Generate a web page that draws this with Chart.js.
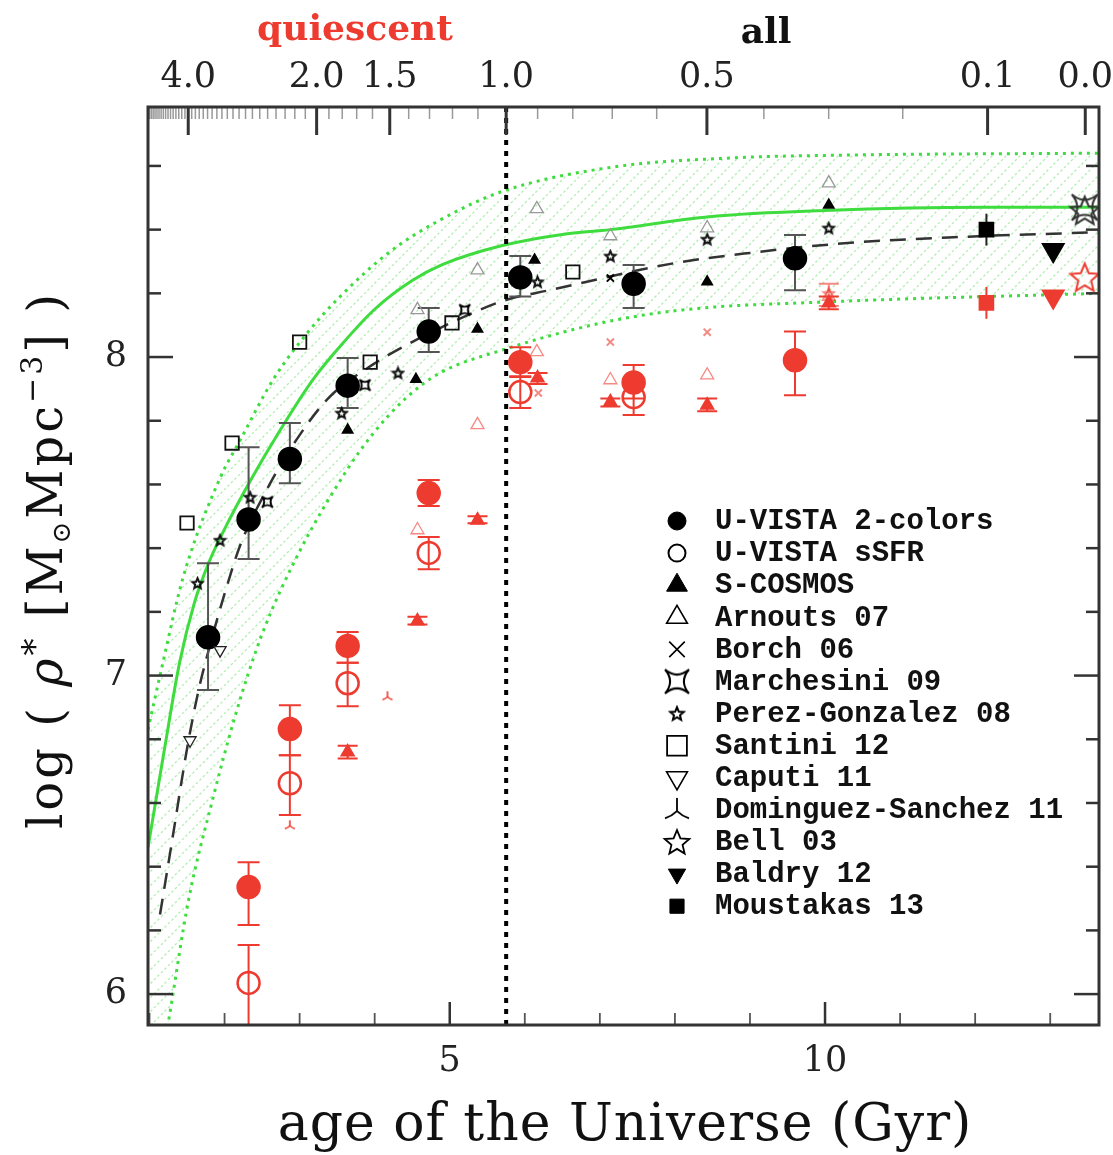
<!DOCTYPE html>
<html>
<head>
<meta charset="utf-8">
<title>Stellar mass density vs age of the Universe</title>
<script src="https://cdn.jsdelivr.net/npm/chart.js@4.4.1/dist/chart.umd.min.js"></script>
<style>
  html, body { margin: 0; padding: 0; background: #fff; }
  #chart { display: block; }
</style>
</head>
<body>
<canvas id="chart" width="1113" height="1155"></canvas>
<script>
// Axis ranges
const ageMin = 0.98, ageMax = 13.65;
const rhoMin = 5.903, rhoMax = 8.785;

// Tick labels
const xTickLabels = [5, 10];
const yTickLabels = [6, 7, 8];
const zMajor = [4, 2, 1.5, 1, 0.5, 0.1, 0];
const zLabels = ['4.0', '2.0', '1.5', '1.0', '0.5', '0.1', '0.0'];

// U-VISTA 2-colors, all galaxies
const allUV2Age = [1.78, 2.32, 2.87, 3.64, 4.72, 5.94, 7.45, 9.60];
const allUV2 = [7.12, 7.49, 7.68, 7.91, 8.08, 8.25, 8.23, 8.31];
const allUV2Lo = [6.955, 7.366, 7.604, 7.84, 8.016, 8.19, 8.154, 8.21];
const allUV2Hi = [7.353, 7.717, 7.793, 7.997, 8.154, 8.317, 8.289, 8.383];

// U-VISTA 2-colors, quiescent
const qUV2Age = [2.32, 2.87, 3.64, 4.72, 5.94, 7.45, 9.60];
const qUV2 = [6.336, 6.832, 7.093, 7.573, 7.984, 7.92, 7.99];
const qUV2Lo = [6.217, 6.75, 7.04, 7.532, 7.937, 7.87, 7.88];
const qUV2Hi = [6.414, 6.907, 7.137, 7.614, 8.031, 7.975, 8.08];

// U-VISTA sSFR, quiescent
const qSSFRAge = [2.32, 2.87, 3.64, 4.72, 5.94, 7.45];
const qSSFR = [6.035, 6.662, 6.976, 7.385, 7.89, 7.874];
const qSSFRLo = [5.80, 6.562, 6.904, 7.334, 7.84, 7.818];
const qSSFRHi = [6.154, 6.75, 7.04, 7.435, 7.94, 7.93];

// S-COSMOS
const allSCAge = [3.64, 4.55, 5.37, 6.13, 8.43, 10.05];
const allSC = [7.771, 7.93, 8.088, 8.305, 8.236, 8.477];
const qSCAge = [3.64, 4.57, 5.37, 6.17, 7.14, 8.43, 10.05];
const qSC = [6.76, 7.171, 7.488, 7.934, 7.859, 7.849, 8.17];
const qSCLo = [6.74, 7.16, 7.478, 7.915, 7.845, 7.83, 8.15];
const qSCHi = [6.78, 7.185, 7.5, 7.95, 7.87, 7.87, 8.19];

// Arnouts 07
const allArnAge = [4.57, 5.37, 6.16, 7.14, 8.43, 10.05];
const allArn = [8.148, 8.273, 8.465, 8.38, 8.405, 8.546];
const qArnAge = [4.57, 5.37, 6.16, 7.14, 8.43, 10.05];
const qArn = [7.457, 7.787, 8.016, 7.928, 7.943, 8.19];

// Borch 06
const allBorAge = [7.14];
const allBor = [8.248];
const qBorAge = [6.18, 7.14, 8.43];
const qBor = [7.887, 8.047, 8.078];

// Marchesini 09
const allMarAge = [2.57, 3.87, 5.2];
const allMar = [7.545, 7.912, 8.148];
const allMarZ0Age = [13.46];
const allMarZ0 = [8.47];

// Perez-Gonzalez 08
const allPGAge = [1.64, 1.94, 2.34, 3.56, 4.31, 6.17, 7.14, 8.43, 10.05];
const allPG = [7.29, 7.425, 7.56, 7.824, 7.95, 8.236, 8.317, 8.37, 8.405];
const qPGAge = [10.05];
const qPG = [8.2];

// Santini 12
const allSanAge = [1.5, 2.1, 3.0, 3.94, 5.03, 6.64];
const allSan = [7.479, 7.73, 8.047, 7.984, 8.107, 8.267];

// Caputi 11
const allCapAge = [1.54, 1.94];
const allCap = [6.797, 7.08];

// Dominguez-Sanchez 11
const qDSAge = [2.87, 4.17];
const qDS = [6.53, 6.935];

// Bell 03
const allBellAge = [13.46];
const allBell = [8.46];
const qBellAge = [13.46];
const qBell = [8.25];

// Baldry 12
const allBalAge = [13.04];
const allBal = [8.336];
const qBalAge = [13.04];
const qBal = [8.19];

// Moustakas 13
const allMouAge = [12.15];
const allMou = [8.40];
const allMouLo = [8.35];
const allMouHi = [8.45];
const qMouAge = [12.15];
const qMou = [8.17];
const qMouLo = [8.12];
const qMouHi = [8.22];

// Fit curve (green solid) and its band (green dotted)
const fitAge = [0.98, 1.2, 1.4, 1.6, 1.8, 2.0, 2.34, 2.74, 3.18, 3.6, 4.0, 4.5, 4.9, 5.7, 6.5, 7.14, 8.43, 10.0, 12.15, 13.65];
const fitRho = [6.46, 6.77, 7.04, 7.23, 7.36, 7.46, 7.61, 7.77, 7.93, 8.05, 8.15, 8.24, 8.29, 8.35, 8.385, 8.40, 8.44, 8.46, 8.47, 8.47];
const bandHiAge = [0.98, 1.14, 1.45, 1.94, 2.21, 2.65, 3.10, 3.54, 4.20, 4.87, 5.70, 7.19, 8.74, 10.27, 13.65];
const bandHi = [6.83, 7.0, 7.31, 7.62, 7.74, 7.93, 8.075, 8.19, 8.33, 8.43, 8.52, 8.597, 8.625, 8.634, 8.64];
const bandLoAge = [0.98, 1.25, 1.52, 1.84, 2.15, 2.5, 3.0, 3.63, 3.98, 4.43, 4.87, 5.70, 7.02, 8.1, 10.0, 13.65];
const bandLo = [5.55, 5.91, 6.295, 6.61, 6.88, 7.13, 7.39, 7.645, 7.76, 7.874, 7.95, 8.022, 8.107, 8.148, 8.173, 8.2];

// Black dashed curve
const dashAge = [1.14, 1.3, 1.5, 1.65, 1.8, 2.03, 2.21, 2.6, 3.0, 3.4, 4.0, 4.4, 5.3, 5.76, 6.33, 8.0, 9.0, 10.3, 11.8, 13.65];
const dashRho = [6.25, 6.48, 6.77, 6.95, 7.09, 7.28, 7.41, 7.6, 7.755, 7.875, 7.98, 8.035, 8.138, 8.18, 8.21, 8.295, 8.327, 8.358, 8.377, 8.392];

// Legend
const legendLabels = ['U-VISTA 2-colors', 'U-VISTA sSFR', 'S-COSMOS', 'Arnouts 07', 'Borch 06',
  'Marchesini 09', 'Perez-Gonzalez 08', 'Santini 12', 'Caputi 11', 'Dominguez-Sanchez 11',
  'Bell 03', 'Baldry 12', 'Moustakas 13'];

const red = '#ee3b30';
const redLight = 'rgba(238,59,48,0.6)';
const green = '#3edc3e';
const serif = '"DejaVu Serif", serif';

// age of the Universe at redshift z (flat LCDM, H0=70, Om=0.3)
function ageAtZ(z) {
  const tH = 977.8 / 70;
  return 2 / (3 * Math.sqrt(0.7)) * tH * Math.asinh(Math.sqrt(0.7 / 0.3) * Math.pow(1 + z, -1.5));
}

const pts = (xs, ys) => xs.map((x, i) => ({ x: x, y: ys[i] }));

// symbols that Chart.js does not have
function makeSymbol(size, draw) {
  const c = document.createElement('canvas');
  c.width = size; c.height = size;
  const g = c.getContext('2d');
  g.translate(size / 2, size / 2);
  draw(g, size / 2 - 2);
  return c;
}
function starSymbol(size, color, lw) {
  return makeSymbol(size, (g, r) => {
    g.beginPath();
    for (let k = 0; k < 10; k++) {
      const rr = k % 2 ? r * 0.45 : r;
      const a = -Math.PI / 2 + k * Math.PI / 5;
      g.lineTo(rr * Math.cos(a), rr * Math.sin(a) + r * 0.08);
    }
    g.closePath();
    g.strokeStyle = color; g.lineWidth = lw; g.stroke();
  });
}
function marchSymbol(size, color, lw) {
  return makeSymbol(size, (g, r) => {
    g.beginPath();
    g.moveTo(-r, -r);
    g.quadraticCurveTo(0, -r * 0.15, r, -r);
    g.quadraticCurveTo(r * 0.15, 0, r, r);
    g.quadraticCurveTo(0, r * 0.15, -r, r);
    g.quadraticCurveTo(-r * 0.15, 0, -r, -r);
    g.strokeStyle = color; g.lineWidth = lw; g.stroke();
  });
}
function tripodSymbol(size, color, lw) {
  return makeSymbol(size, (g, r) => {
    g.beginPath();
    g.moveTo(0, -r); g.lineTo(0, r * 0.1);
    g.quadraticCurveTo(-r * 0.4, r * 0.5, -r, r * 0.7);
    g.moveTo(0, r * 0.1);
    g.quadraticCurveTo(r * 0.4, r * 0.5, r, r * 0.7);
    g.strokeStyle = color; g.lineWidth = lw; g.stroke();
  });
}

function hatchPattern() {
  const c = document.createElement('canvas');
  c.width = 14; c.height = 14;
  const g = c.getContext('2d');
  g.strokeStyle = 'rgba(80,215,80,0.45)';
  g.lineWidth = 1.2;
  g.setLineDash([2.475, 2.475]);
  [-14, 0, 14].forEach(x0 => {
    g.beginPath(); g.moveTo(x0, 14); g.lineTo(x0 + 14, 0); g.stroke();
  });
  return document.getElementById('chart').getContext('2d').createPattern(c, 'repeat');
}

function scatter(label, xs, ys, style) {
  return Object.assign({ type: 'scatter', label: label, data: pts(xs, ys), order: 1, borderWidth: 1.5 }, style);
}
function curve(label, xs, ys, style) {
  return Object.assign({ type: 'line', label: label, data: pts(xs, ys), pointRadius: 0, fill: false,
    cubicInterpolationMode: 'monotone', borderCapStyle: 'butt', order: 5 }, style);
}

const none = 'rgba(0,0,0,0)';
const datasets = [
  // band and curves (index 0, 1)
  curve('band upper', bandHiAge, bandHi, { borderColor: green, borderWidth: 3, borderDash: [3, 5],
    fill: { target: 1 }, backgroundColor: hatchPattern(), order: 10 }),
  curve('band lower', bandLoAge, bandLo, { borderColor: green, borderWidth: 3, borderDash: [3, 5], order: 9 }),
  curve('fit', fitAge, fitRho, { borderColor: green, borderWidth: 3 }),
  curve('dashed', dashAge, dashRho, { borderColor: '#333', borderWidth: 2.5, borderDash: [16, 10] }),
  curve('z=1', [ageAtZ(1), ageAtZ(1)], [rhoMin, rhoMax], { borderColor: '#000', borderWidth: 4,
    borderDash: [5, 6], cubicInterpolationMode: 'default', order: 4 }),

  // literature, all
  scatter('Arnouts 07', allArnAge, allArn, { pointStyle: 'triangle', pointRadius: 7.5, backgroundColor: none, borderColor: '#999', borderWidth: 1.3 }),
  scatter('Borch 06', allBorAge, allBor, { pointStyle: 'crossRot', pointRadius: 5, borderColor: '#000', borderWidth: 2 }),
  scatter('Marchesini 09', allMarAge, allMar, { pointStyle: marchSymbol(15, '#000', 1.8) }),
  scatter('Marchesini 09 z0', allMarZ0Age, allMarZ0, { pointStyle: marchSymbol(30, '#333', 2) }),
  scatter('Perez-Gonzalez 08', allPGAge, allPG, { pointStyle: starSymbol(15, '#111', 2) }),
  scatter('Santini 12', allSanAge, allSan, { pointStyle: 'rect', pointRadius: 9.5, backgroundColor: none, borderColor: '#111', borderWidth: 1.8 }),
  scatter('Caputi 11', allCapAge, allCap, { pointStyle: 'triangle', rotation: 180, pointRadius: 7, backgroundColor: none, borderColor: '#222', borderWidth: 1.3 }),
  scatter('Bell 03', allBellAge, allBell, { pointStyle: starSymbol(34, '#333', 2) }),
  scatter('Baldry 12', allBalAge, allBal, { pointStyle: 'triangle', rotation: 180, pointRadius: 12.5, backgroundColor: '#000', borderColor: '#000' }),
  scatter('Moustakas 13', allMouAge, allMou, { pointStyle: 'rect', pointRadius: 10, backgroundColor: '#000', borderColor: '#000',
    errLo: allMouLo, errHi: allMouHi, errColor: '#222', errCap: 0 }),
  scatter('S-COSMOS', allSCAge, allSC, { pointStyle: 'triangle', pointRadius: 6, backgroundColor: '#000', borderColor: '#000' }),
  scatter('U-VISTA 2-colors', allUV2Age, allUV2, { pointStyle: 'circle', pointRadius: 11.5, backgroundColor: '#000', borderColor: '#000',
    errLo: allUV2Lo, errHi: allUV2Hi, errColor: '#555', errCap: 11 }),

  // literature, quiescent
  scatter('Arnouts 07 q', qArnAge, qArn, { pointStyle: 'triangle', pointRadius: 7.5, backgroundColor: none, borderColor: redLight, borderWidth: 1.3 }),
  scatter('Borch 06 q', qBorAge, qBor, { pointStyle: 'crossRot', pointRadius: 5, borderColor: redLight, borderWidth: 2 }),
  scatter('Perez-Gonzalez 08 q', qPGAge, qPG, { pointStyle: starSymbol(15, redLight, 2),
    errLo: [8.16], errHi: [8.23], errColor: redLight, errCap: 10 }),
  scatter('Dominguez-Sanchez 11 q', qDSAge, qDS, { pointStyle: tripodSymbol(14, red, 1.6) }),
  scatter('Bell 03 q', qBellAge, qBell, { pointStyle: starSymbol(34, red, 2) }),
  scatter('Baldry 12 q', qBalAge, qBal, { pointStyle: 'triangle', rotation: 180, pointRadius: 12.5, backgroundColor: red, borderColor: red }),
  scatter('Moustakas 13 q', qMouAge, qMou, { pointStyle: 'rect', pointRadius: 10, backgroundColor: red, borderColor: red,
    errLo: qMouLo, errHi: qMouHi, errColor: red, errCap: 0 }),
  scatter('S-COSMOS q', qSCAge, qSC, { pointStyle: 'triangle', pointRadius: 7.5, backgroundColor: red, borderColor: red,
    errLo: qSCLo, errHi: qSCHi, errColor: red, errCap: 10 }),
  scatter('U-VISTA sSFR q', qSSFRAge, qSSFR, { pointStyle: 'circle', pointRadius: 11, backgroundColor: none, borderColor: red, borderWidth: 2.5,
    errLo: qSSFRLo, errHi: qSSFRHi, errColor: red, errCap: 11 }),
  scatter('U-VISTA 2-colors q', qUV2Age, qUV2, { pointStyle: 'circle', pointRadius: 11.5, backgroundColor: red, borderColor: red,
    errLo: qUV2Lo, errHi: qUV2Hi, errColor: red, errCap: 11 })
];

// legend symbols, drawn with the same helpers as the points
const legendSymbols = [
  { pointStyle: 'circle', radius: 9, fill: '#000', stroke: '#000', borderWidth: 1 },
  { pointStyle: 'circle', radius: 8.5, fill: none, stroke: '#000', borderWidth: 2 },
  { pointStyle: 'triangle', radius: 12, fill: '#000', stroke: '#000', borderWidth: 1 },
  { pointStyle: 'triangle', radius: 12, fill: none, stroke: '#000', borderWidth: 1.6 },
  { pointStyle: 'crossRot', radius: 11, fill: none, stroke: '#000', borderWidth: 1.6 },
  { pointStyle: marchSymbol(28, '#000', 2), radius: 12 },
  { pointStyle: starSymbol(18, '#000', 2), radius: 8 },
  { pointStyle: 'rect', radius: 14, fill: none, stroke: '#000', borderWidth: 1.8 },
  { pointStyle: 'triangle', rotation: 180, radius: 12, fill: none, stroke: '#000', borderWidth: 1.6 },
  { pointStyle: tripodSymbol(28, '#000', 1.8), radius: 12 },
  { pointStyle: starSymbol(30, '#000', 1.8), radius: 13 },
  { pointStyle: 'triangle', rotation: 180, radius: 10, fill: '#000', stroke: '#000', borderWidth: 1 },
  { pointStyle: 'rect', radius: 10, fill: '#000', stroke: '#000', borderWidth: 1 }
];

// error bars, drawn before each dataset's markers
const errorBars = {
  id: 'errorBars',
  beforeDatasetDraw(chart, args) {
    const ds = chart.data.datasets[args.index];
    if (!ds.errLo) return;
    const ctx = chart.ctx, y = chart.scales.y, a = chart.chartArea;
    ctx.save();
    ctx.beginPath();
    ctx.rect(a.left, a.top, a.right - a.left, a.bottom - a.top);
    ctx.clip();
    ctx.strokeStyle = ds.errColor;
    ctx.lineWidth = 2;
    args.meta.data.forEach((pt, i) => {
      const top = y.getPixelForValue(ds.errHi[i]);
      const bot = y.getPixelForValue(ds.errLo[i]);
      ctx.beginPath();
      ctx.moveTo(pt.x, top); ctx.lineTo(pt.x, bot);
      if (ds.errCap) {
        ctx.moveTo(pt.x - ds.errCap, top); ctx.lineTo(pt.x + ds.errCap, top);
        ctx.moveTo(pt.x - ds.errCap, bot); ctx.lineTo(pt.x + ds.errCap, bot);
      }
      ctx.stroke();
    });
    ctx.restore();
  }
};

// frame, inward ticks, titles, legend
const decorations = {
  id: 'decorations',
  afterDraw(chart) {
    const ctx = chart.ctx, a = chart.chartArea;
    const x = chart.scales.x, y = chart.scales.y;
    const tick = (x1, y1, x2, y2) => { ctx.beginPath(); ctx.moveTo(x1, y1); ctx.lineTo(x2, y2); ctx.stroke(); };
    ctx.save();

    // bottom: every Gyr, long at 5 and 10
    for (let v = 1; v <= 13; v++) {
      const px = x.getPixelForValue(v);
      const major = v % 5 === 0;
      ctx.strokeStyle = major ? '#333' : '#555';
      ctx.lineWidth = major ? 2.5 : 1.8;
      tick(px, a.bottom, px, a.bottom - (major ? 23 : 12));
    }
    // left and right: every 0.2 dex, long at integers
    for (let k = 30; k <= 43; k++) {
      const py = y.getPixelForValue(k / 5);
      const major = k % 5 === 0;
      const len = major ? 25 : 13;
      ctx.strokeStyle = '#333';
      ctx.lineWidth = 2.5;
      tick(a.left, py, a.left + len, py);
      tick(a.right, py, a.right - len, py);
    }
    // top: redshift
    for (let k = 2; k <= 57; k++) {
      const z = k / 10;
      if (zMajor.some(m => Math.abs(m - z) < 1e-6)) continue;
      const px = x.getPixelForValue(ageAtZ(z));
      ctx.strokeStyle = '#999';
      ctx.lineWidth = 1.5;
      tick(px, a.top, px, a.top + 12);
    }
    zMajor.forEach(z => {
      const px = x.getPixelForValue(ageAtZ(z));
      ctx.strokeStyle = '#333';
      ctx.lineWidth = 3;
      tick(px, a.top, px, a.top + 28);
    });

    // frame
    ctx.strokeStyle = '#333';
    ctx.lineWidth = 3;
    ctx.strokeRect(a.left, a.top, a.right - a.left, a.bottom - a.top);

    // x title
    ctx.fillStyle = '#111';
    ctx.textAlign = 'center';
    ctx.textBaseline = 'alphabetic';
    ctx.font = '52px ' + serif;
    ctx.letterSpacing = '1px';
    ctx.fillText('age of the Universe (Gyr)', 625, 1140);
    ctx.letterSpacing = '0px';

    // top labels
    ctx.font = 'bold 36px ' + serif;
    ctx.fillStyle = red;
    ctx.fillText('quiescent', 355, 40);
    ctx.fillStyle = '#111';
    ctx.fillText('all', 766, 43);

    // y title with sub/superscripts
    const parts = [
      { t: 'log ( ', f: '48px ' + serif, dy: 0 },
      { t: 'ρ', f: 'italic 48px ' + serif, dy: 0 },
      { t: '*', f: '34px ' + serif, dy: -16 },
      { t: ' [M', f: '48px ' + serif, dy: 0 },
      { t: '⊙', f: '26px ' + serif, dy: 8 },
      { t: 'Mpc', f: '48px ' + serif, dy: 0 },
      { t: '−3', f: '30px ' + serif, dy: -20 },
      { t: '] )', f: '48px ' + serif, dy: 0 }
    ];
    ctx.letterSpacing = '3px';
    let w = 0;
    parts.forEach(p => { ctx.font = p.f; p.w = ctx.measureText(p.t).width; w += p.w; });
    ctx.save();
    ctx.translate(62, 560);
    ctx.rotate(-Math.PI / 2);
    ctx.textAlign = 'left';
    let cx = -w / 2;
    parts.forEach(p => { ctx.font = p.f; ctx.fillText(p.t, cx, p.dy); cx += p.w; });
    ctx.restore();
    ctx.letterSpacing = '0px';

    // legend
    ctx.font = 'bold 29px "Liberation Mono", monospace';
    ctx.textAlign = 'left';
    ctx.textBaseline = 'middle';
    legendLabels.forEach((label, i) => {
      const ly = 521 + i * 32.1;
      const s = legendSymbols[i];
      ctx.fillStyle = s.fill || none;
      ctx.strokeStyle = s.stroke || '#000';
      ctx.lineWidth = s.borderWidth || 1;
      Chart.helpers.drawPoint(ctx, { pointStyle: s.pointStyle, radius: s.radius, rotation: s.rotation || 0,
        borderWidth: s.borderWidth || 0 }, 677, ly);
      ctx.fillStyle = '#111';
      ctx.fillText(label, 715, ly + 1);
    });
    ctx.restore();
  }
};

const tickFont = { family: serif, size: 35 };
const noPad = s => { s.paddingLeft = 0; s.paddingRight = 0; s.paddingTop = 0; s.paddingBottom = 0; };

new Chart(document.getElementById('chart'), {
  type: 'scatter',
  data: { datasets: datasets },
  options: {
    responsive: false,
    animation: false,
    devicePixelRatio: 1,
    events: [],
    layout: { padding: { left: 0, right: 12, top: 0, bottom: 0 } },
    plugins: { legend: { display: false }, tooltip: { enabled: false } },
    scales: {
      x: {
        type: 'linear', position: 'bottom', min: ageMin, max: ageMax,
        grid: { display: false, drawTicks: false }, border: { display: false },
        afterBuildTicks: s => { s.ticks = xTickLabels.map(v => ({ value: v })); },
        afterFit: s => { s.height = 130; noPad(s); },
        ticks: { font: tickFont, color: '#222', padding: 16, autoSkip: false, maxRotation: 0 }
      },
      xTop: {
        type: 'linear', axis: 'x', position: 'top', min: ageMin, max: ageMax,
        grid: { display: false, drawTicks: false }, border: { display: false },
        afterBuildTicks: s => { s.ticks = zMajor.map(z => ({ value: ageAtZ(z) })); },
        afterFit: s => { s.height = 107; noPad(s); },
        ticks: { font: tickFont, color: '#222', padding: 8, autoSkip: false, maxRotation: 0,
          callback: (v, i) => zLabels[i] }
      },
      y: {
        type: 'linear', position: 'left', min: rhoMin, max: rhoMax,
        grid: { display: false, drawTicks: false }, border: { display: false },
        afterBuildTicks: s => { s.ticks = yTickLabels.map(v => ({ value: v })); },
        afterFit: s => { s.width = 148; noPad(s); },
        ticks: { font: tickFont, color: '#222', padding: 21, autoSkip: false }
      }
    }
  },
  plugins: [errorBars, decorations]
});
</script>
</body>
</html>
